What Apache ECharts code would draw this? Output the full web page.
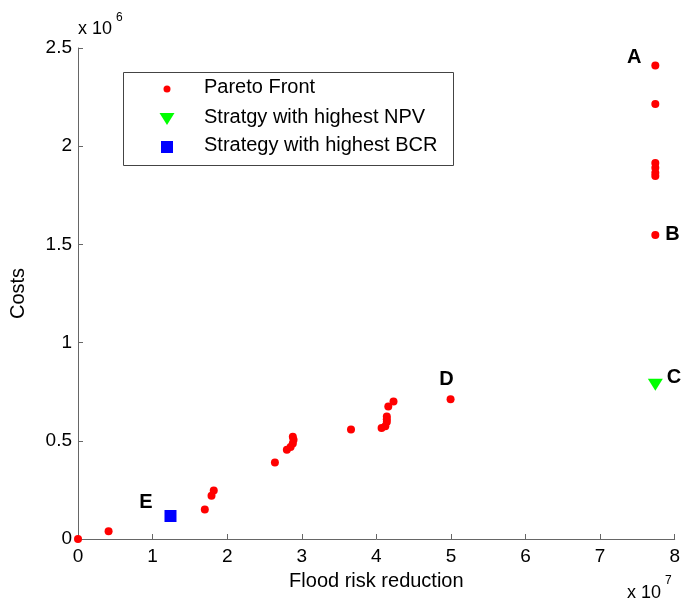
<!DOCTYPE html>
<html>
<head>
<meta charset="utf-8">
<script src="https://cdn.jsdelivr.net/npm/echarts@6/dist/echarts.min.js"></script>
<style>
  html, body { margin: 0; padding: 0; background: #fff; }
  #chart { width: 683px; height: 604px; }
</style>
</head>
<body>
<div id="chart"></div>
<script>
  // x in units of 1e7, y in units of 1e6
  const paretoX = [0, 0.41, 1.70, 1.79, 1.82, 2.64, 2.80, 2.85, 2.88, 2.89, 2.88, 3.66,
    4.07, 4.12, 4.14, 4.14, 4.14, 4.16, 4.23, 4.995, 7.74, 7.74, 7.74, 7.74, 7.74, 7.74, 7.74];
  const paretoY = [0, 0.04, 0.15, 0.22, 0.247, 0.39, 0.455, 0.469, 0.486, 0.505, 0.52, 0.557,
    0.565, 0.574, 0.596, 0.61, 0.624, 0.675, 0.70, 0.712, 1.548, 1.848, 1.865, 1.89, 1.915, 2.215, 2.411];
  const paretoTags = ['', '', '', '', '', '', '', '', '', '', '', '',
    '', '', '', '', '', '', '', 'D', 'B', '', '', '', '', '', 'A'];
  const npvPoint = [7.74, 0.785];
  const bcrPoint = [1.24, 0.117];
  const xTicks = ['0', '1', '2', '3', '4', '5', '6', '7', '8'];
  const yTicks = ['0', '0.5', '1', '1.5', '2', '2.5'];

  const font = 'Liberation Sans, Arial, sans-serif';
  const tagFont = { fontFamily: font, fontWeight: 'bold', fontSize: 20, color: '#000' };
  const tagPos = {
    A: { position: 'left', distance: 10, offset: [0, -8] },
    B: { position: 'right', distance: 6, offset: [0, 0] },
    D: { position: 'top', distance: 6, offset: [-4, 0] }
  };

  const paretoData = paretoX.map((x, i) => {
    const tag = paretoTags[i];
    const item = { value: [x, paretoY[i]] };
    if (tag) {
      item.label = Object.assign({ show: true, formatter: tag }, tagFont, tagPos[tag]);
    }
    return item;
  });

  const chart = echarts.init(document.getElementById('chart'));

  chart.setOption({
    animation: false,
    backgroundColor: '#fff',
    grid: { left: 77, top: 48, right: 6, bottom: 65, containLabel: false },
    xAxis: {
      type: 'value', min: 0, max: 8, interval: 1,
      name: 'Flood risk reduction', nameLocation: 'middle', nameGap: 32,
      nameTextStyle: { fontFamily: font, fontSize: 20, color: '#000' },
      axisLine: { lineStyle: { color: '#666', width: 1 } },
      axisTick: { inside: true, length: 5, lineStyle: { color: '#666' } },
      axisLabel: {
        margin: 8, fontFamily: font, fontSize: 19, color: '#000',
        formatter: v => xTicks[Math.round(v)]
      },
      splitLine: { show: false }
    },
    yAxis: {
      type: 'value', min: 0, max: 2.5, interval: 0.5,
      name: 'Costs', nameLocation: 'middle', nameGap: 50,
      nameTextStyle: { fontFamily: font, fontSize: 20, color: '#000' },
      axisLine: { show: true, lineStyle: { color: '#666', width: 1 } },
      axisTick: { show: true, inside: true, length: 5, lineStyle: { color: '#666' } },
      axisLabel: {
        margin: 6, fontFamily: font, fontSize: 19, color: '#000',
        formatter: v => yTicks[Math.round(v * 2)]
      },
      splitLine: { show: false }
    },
    series: [
      {
        name: 'Pareto Front', type: 'scatter', symbol: 'circle', symbolSize: 8,
        itemStyle: { color: '#ff0000', opacity: 1 },
        data: paretoData, z: 3
      },
      {
        name: 'Stratgy with highest NPV', type: 'scatter', symbol: 'triangle',
        symbolSize: [15, 12], symbolRotate: 180,
        itemStyle: { color: '#00ff00', opacity: 1 },
        label: Object.assign({ show: true, formatter: 'C', position: 'right', distance: 4, offset: [0, -7] }, tagFont),
        data: [npvPoint], z: 4
      },
      {
        name: 'Strategy with highest BCR', type: 'scatter', symbol: 'rect', symbolSize: 12,
        itemStyle: { color: '#0000ff', opacity: 1 },
        label: Object.assign({ show: true, formatter: 'E', position: 'left', distance: 12, offset: [0, -14] }, tagFont),
        data: [bcrPoint], z: 4
      }
    ],
    graphic: [
      // legend box
      { type: 'rect', left: 123, top: 72, shape: { width: 330, height: 93 },
        style: { fill: '#fff', stroke: '#444', lineWidth: 1 }, z: 10 },
      { type: 'circle', shape: { cx: 167, cy: 89, r: 3.5 }, style: { fill: '#ff0000' }, z: 11 },
      { type: 'polygon', shape: { points: [[159.5, 113], [174.5, 113], [167, 125]] }, style: { fill: '#00ff00' }, z: 11 },
      { type: 'rect', shape: { x: 161, y: 141, width: 12, height: 12 }, style: { fill: '#0000ff' }, z: 11 },
      { type: 'text', left: 204, top: 77, style: { text: 'Pareto Front', font: '20px ' + font, fill: '#000' }, z: 11 },
      { type: 'text', left: 204, top: 107, style: { text: 'Stratgy with highest NPV', font: '20px ' + font, fill: '#000' }, z: 11 },
      { type: 'text', left: 204, top: 135, style: { text: 'Strategy with highest BCR', font: '20px ' + font, fill: '#000' }, z: 11 },
      // axis multipliers
      { type: 'text', left: 78, top: 20, style: { text: 'x 10', font: '18px ' + font, fill: '#000' } },
      { type: 'text', left: 116, top: 12, style: { text: '6', font: '12px ' + font, fill: '#000' } },
      { type: 'text', left: 627, top: 584, style: { text: 'x 10', font: '18px ' + font, fill: '#000' } },
      { type: 'text', left: 665, top: 575, style: { text: '7', font: '12px ' + font, fill: '#000' } }
    ]
  });
</script>
</body>
</html>
